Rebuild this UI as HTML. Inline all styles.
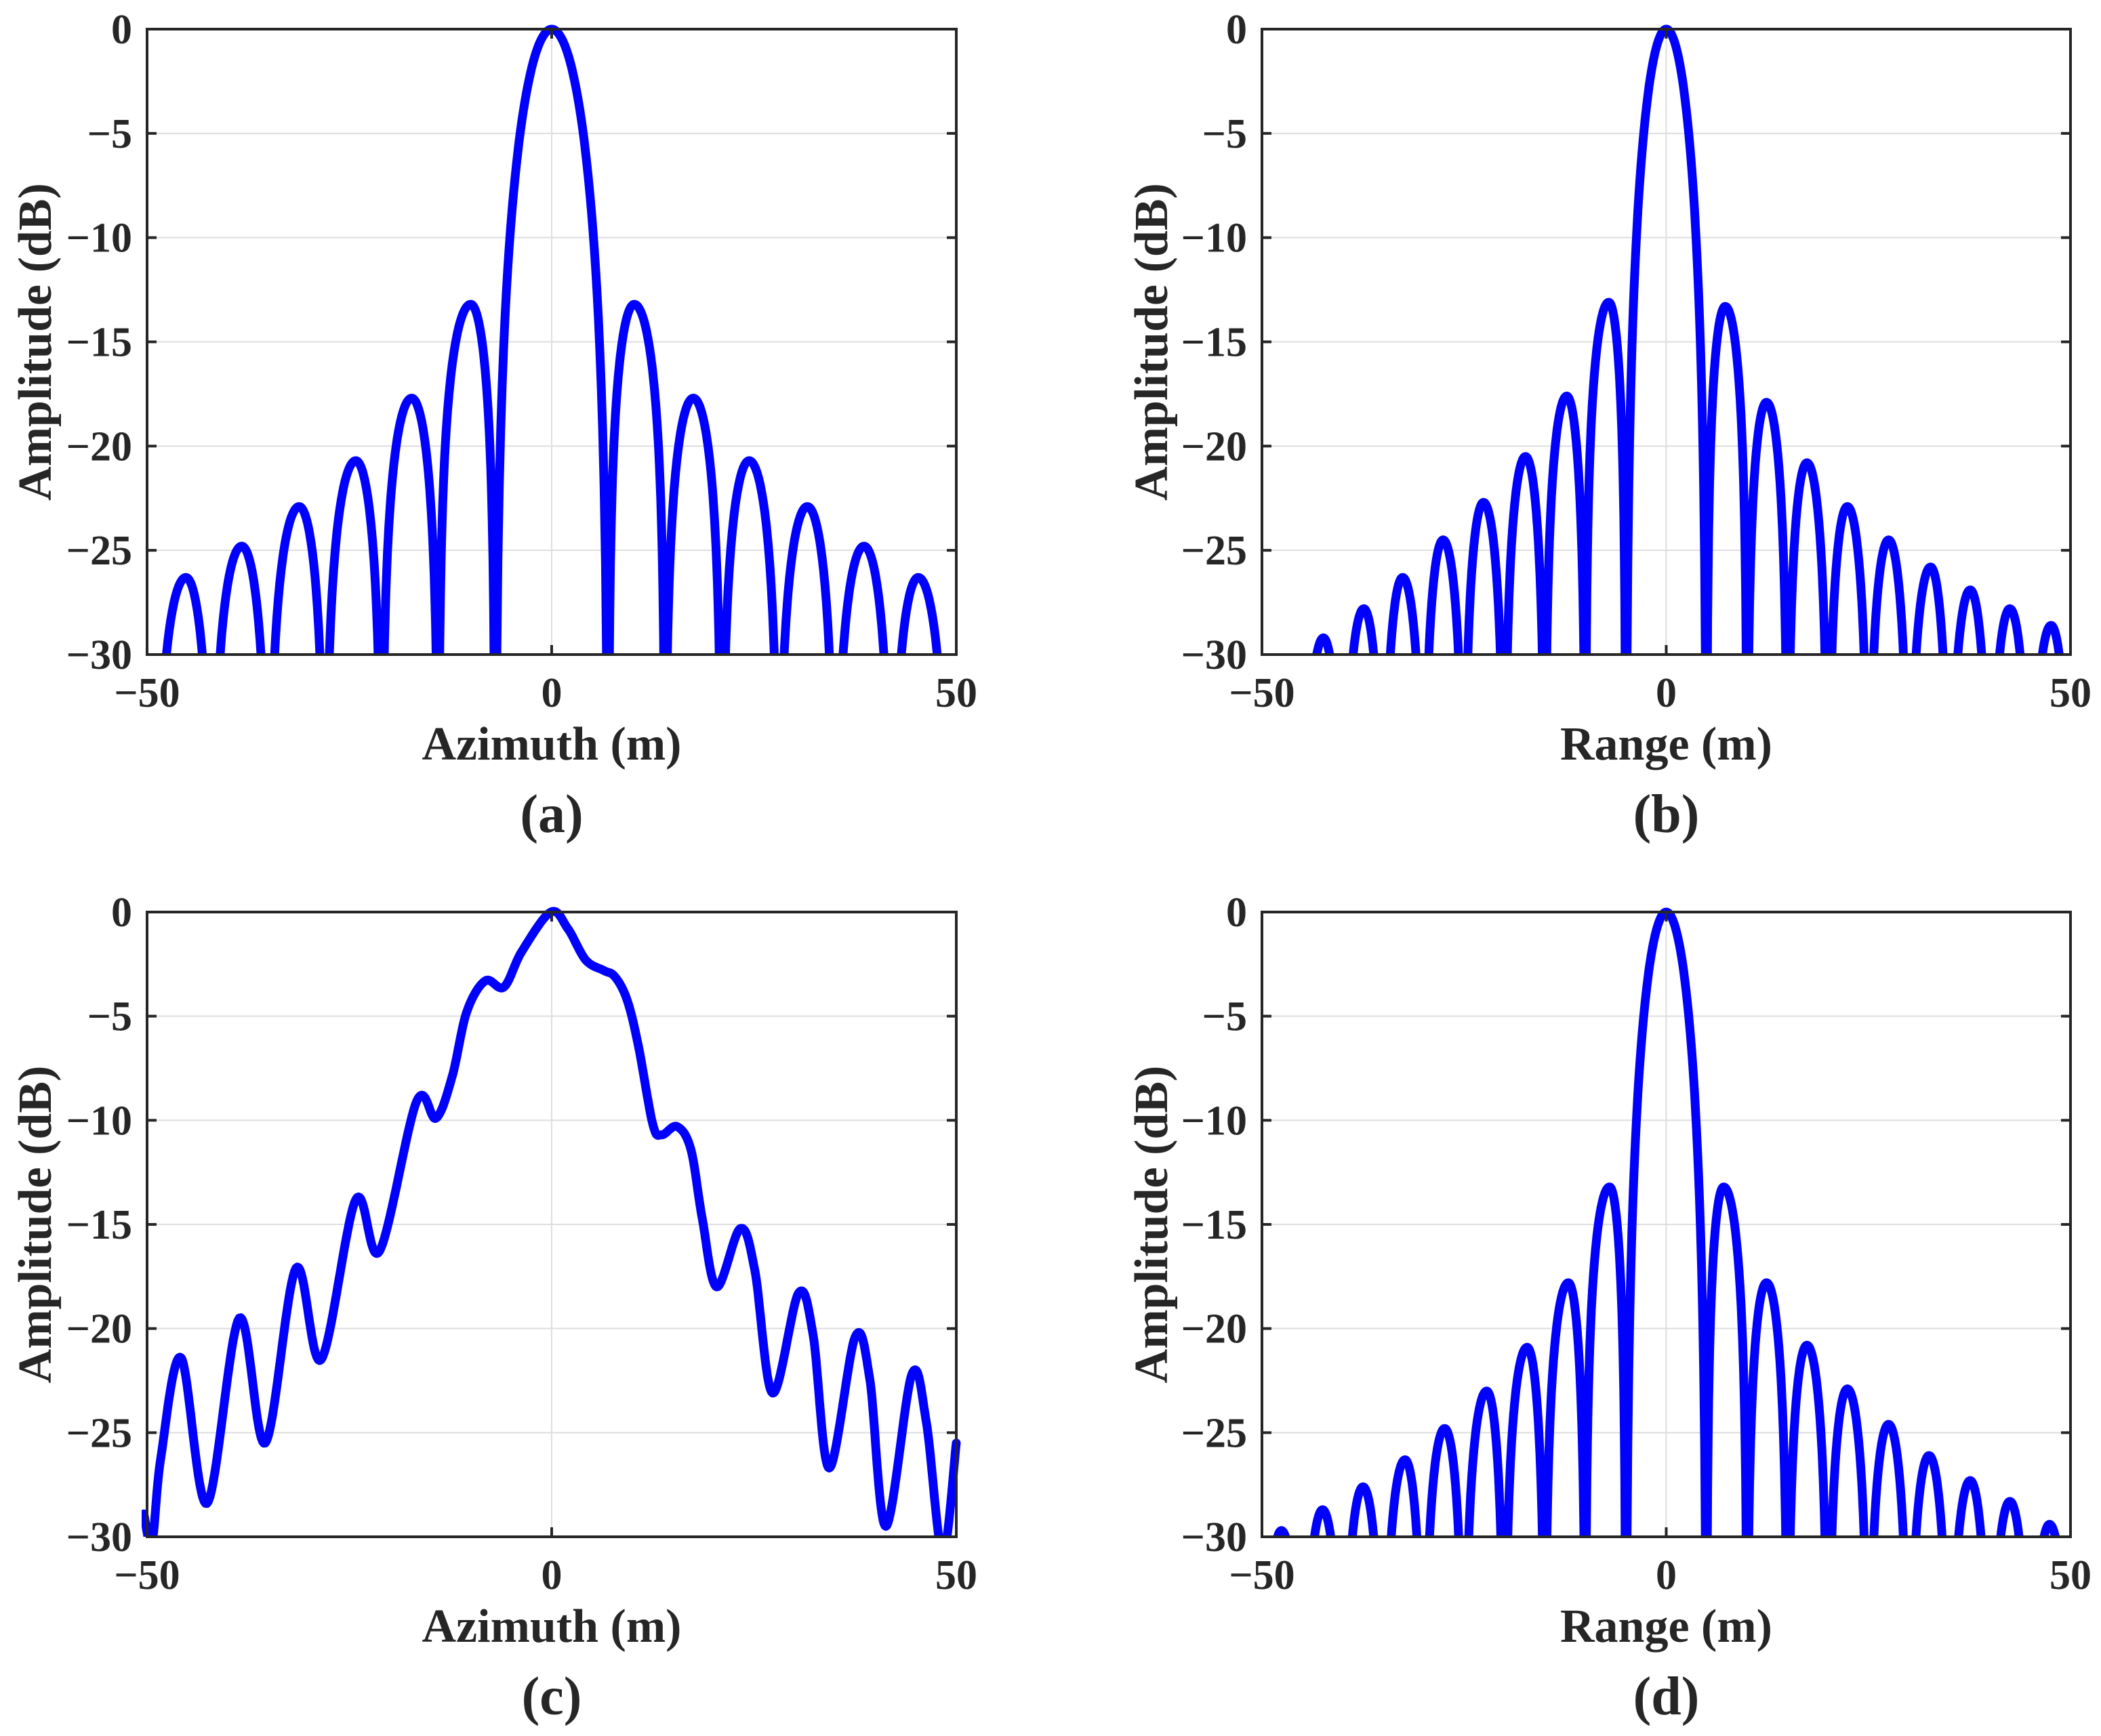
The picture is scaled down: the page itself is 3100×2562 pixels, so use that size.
<!DOCTYPE html>
<html><head><meta charset="utf-8"><style>
html,body{margin:0;padding:0;background:#fff;width:3100px;height:2562px;overflow:hidden}
svg{display:block}
text{font-family:"Liberation Serif",serif;fill:#262626}
</style></head><body>
<svg id="fig" xmlns="http://www.w3.org/2000/svg" width="3100" height="2562" viewBox="0 0 3100 2562" overflow="hidden"></svg>
<script>
// ---- data (panel a: azimuth, focused) ----
const nullsA = [-49,-42,-35,-28,-21,-14,-7,7,14,21,28,35,42,49];
const peakXA = [-45.2,-38.3,-31.2,-24.2,-17.3,-10,0,10.2,17.5,24.4,31.6,38.6,45.3];
const peakYA = [-26.3,-24.8,-22.9,-20.7,-17.7,-13.2,0,-13.2,-17.7,-20.7,-22.9,-24.8,-26.3];
// ---- panel b: range ----
const nullsB = [-45,-40,-35,-30,-25,-20,-15,-10,-5,5,10,15,20,25,30,35,40,45,50];
const peakXB = [-42.4,-37.4,-32.6,-27.6,-22.6,-17.4,-12.3,-7.1,0,7.3,12.4,17.4,22.4,27.5,32.7,37.6,42.5,47.6];
const peakYB = [-29.2,-27.8,-26.3,-24.5,-22.7,-20.5,-17.6,-13.1,0,-13.3,-17.9,-20.8,-22.9,-24.5,-25.8,-26.9,-27.8,-28.6];
// ---- panel c: azimuth, defocused (sampled curve) ----
const curveXC = [-50.4,-49.4,-48.3,-45.8,-42.6,-38.6,-35.4,-31.6,-28.5,-24.2,-21.3,-16.7,-14.3,-12.3,-10.5,-8.2,-5.9,-3.7,-0.1,2.0,4.2,6.4,7.8,9.3,10.7,12.5,13.6,15.5,17.2,18.6,20.4,23.3,25.1,27.3,30.5,32.3,34.3,37.5,39.3,41.3,44.5,46.3,48.3,50];
const curveYC = [-28.9,-30.3,-26.2,-21.4,-28.4,-19.5,-25.5,-17.1,-21.5,-13.8,-16.3,-9.1,-9.9,-7.9,-4.8,-3.3,-3.6,-1.9,0,-0.8,-2.3,-2.8,-3.1,-4.2,-6.4,-10.2,-10.7,-10.3,-11.4,-14.7,-18.0,-15.2,-17.2,-23.1,-18.3,-20.3,-26.7,-20.4,-22.4,-29.5,-22.2,-24.5,-30.8,-25.5];
// ---- panel d: range ----
const nullsD = [-50,-45,-40,-35,-30,-25,-20,-15,-10,-5,5,10,15,20,25,30,35,40,45,50];
const peakXD = [-47.6,-42.5,-37.5,-32.3,-27.4,-22.2,-17.2,-12.1,-7.0,0,7.1,12.4,17.4,22.4,27.5,32.5,37.6,42.5,47.4];
const peakYD = [-29.7,-28.7,-27.6,-26.3,-24.8,-23.0,-20.9,-17.8,-13.2,0,-13.2,-17.8,-20.8,-22.9,-24.6,-26.1,-27.3,-28.3,-29.4];
const xTicks = [-50,0,50];
const yTicks = [0,-5,-10,-15,-20,-25,-30];
const xTickLabels = ['\u221250','0','50'];
const yTickLabels = ['0','\u22125','\u221210','\u221215','\u221220','\u221225','\u221230'];

const NS='http://www.w3.org/2000/svg';
const svg=document.getElementById('fig');
function mk(tag,attrs,parent){const e=document.createElementNS(NS,tag);for(const k in attrs)e.setAttribute(k,attrs[k]);(parent||svg).appendChild(e);return e;}

const panels=[
 {id:'a',x0:217,x1:1411,y0:43,y1:966,xl:'Azimuth (m)',yl:75,type:'lobes',n:nullsA,px:peakXA,py:peakYA},
 {id:'b',x0:1862,x1:3055,y0:43,y1:966,xl:'Range (m)',yl:1722,type:'lobes',n:nullsB,px:peakXB,py:peakYB},
 {id:'c',x0:217,x1:1411,y0:1346,y1:2268,xl:'Azimuth (m)',yl:75,type:'curve',cx:curveXC,cy:curveYC},
 {id:'d',x0:1862,x1:3055,y0:1346,y1:2268,xl:'Range (m)',yl:1722,type:'lobes',n:nullsD,px:peakXD,py:peakYD}
];

function lobePoints(n,px,py){
  const pts=[];
  for(let i=0;i<n.length-1;i++){
    const a=n[i],b=n[i+1],p=px[i],v=py[i];
    const N=80;
    for(let j=0;j<=N;j++){
      const x=a+(b-a)*j/N;let y;
      if(v>-1){const h=(x<p)?(p-a):(b-p);const t=(x-p)/h;
        const s=Math.abs(t)<1e-9?1:Math.abs(Math.sin(Math.PI*t)/(Math.PI*t));
        y=v+20*Math.log10(Math.max(s,1e-4));}
      else{const u=(x<p)?0.5*(x-a)/(p-a):0.5+0.5*(x-p)/(b-p);
        y=v+14*Math.log10(Math.max(Math.sin(Math.PI*u),1e-4));}
      pts.push([x,Math.max(y,-45)]);
    }
  }
  return pts;
}
function splinePoints(xs,ys){
  const pts=[];
  for(let i=0;i<xs.length-1;i++){
    const p0=[xs[Math.max(i-1,0)],ys[Math.max(i-1,0)]],p1=[xs[i],ys[i]],p2=[xs[i+1],ys[i+1]],p3=[xs[Math.min(i+2,xs.length-1)],ys[Math.min(i+2,xs.length-1)]];
    for(let j=0;j<20;j++){const t=j/20,t2=t*t,t3=t2*t;
      const f=(a,b,c,d)=>0.5*((2*b)+(-a+c)*t+(2*a-5*b+4*c-d)*t2+(-a+3*b-3*c+d)*t3);
      pts.push([f(p0[0],p1[0],p2[0],p3[0]),f(p0[1],p1[1],p2[1],p3[1])]);}
  }
  pts.push([xs[xs.length-1],ys[ys.length-1]]);
  return pts;
}

panels.forEach(P=>{
  const g=mk('g',{});
  
  
  const sx=v=>P.x0+(v+50)/100*(P.x1-P.x0);
  const sy=v=>P.y0+(0-v)/30*(P.y1-P.y0);
  yTicks.forEach(t=>{if(t===0||t===-30)return;
    const l=mk('line',{x1:P.x0,x2:P.x1,y1:sy(t),y2:sy(t),stroke:'#dedede','stroke-width':2},g);
    
    });
  const gx=mk('line',{x1:sx(0),x2:sx(0),y1:P.y0,y2:P.y1,stroke:'#dedede','stroke-width':2},g);
  
  
  const cp=mk('clipPath',{id:'clip'+P.id},g);
  mk('rect',{x:P.x0-8,y:P.y0-8,width:P.x1-P.x0+16,height:P.y1-P.y0+8},cp);
  const pts=P.type==='lobes'?lobePoints(P.n,P.px,P.py):splinePoints(P.cx,P.cy);
  const d=pts.map((p,i)=>(i?'L':'M')+sx(p[0]).toFixed(1)+' '+sy(p[1]).toFixed(1)).join('');
  const path=mk('path',{d:d,fill:'none',stroke:'#0000ff','stroke-width':13,'stroke-linejoin':'round','stroke-linecap':'round','clip-path':'url(#clip'+P.id+')'},g);
  
  
  const box=mk('rect',{x:P.x0,y:P.y0,width:P.x1-P.x0,height:P.y1-P.y0,fill:'none',stroke:'#262626','stroke-width':4},g);
  
  
  yTicks.forEach((t,i)=>{
    mk('line',{x1:P.x0,x2:P.x0+14,y1:sy(t),y2:sy(t),stroke:'#262626','stroke-width':4},g);
    mk('line',{x1:P.x1,x2:P.x1-14,y1:sy(t),y2:sy(t),stroke:'#262626','stroke-width':4},g);
    const tx=mk('text',{x:P.x0-22,y:sy(t)+21,'text-anchor':'end','font-size':62,'font-weight':'bold'},g);
    tx.textContent=yTickLabels[i];
    
    
  });
  xTicks.forEach((t,i)=>{
    mk('line',{x1:sx(t),x2:sx(t),y1:P.y1,y2:P.y1-14,stroke:'#262626','stroke-width':4},g);
    mk('line',{x1:sx(t),x2:sx(t),y1:P.y0,y2:P.y0+14,stroke:'#262626','stroke-width':4},g);
    const tx=mk('text',{x:sx(t),y:P.y1+77,'text-anchor':'middle','font-size':62,'font-weight':'bold'},g);
    tx.textContent=xTickLabels[i];
    
    
  });
  const xl=mk('text',{x:(P.x0+P.x1)/2,y:P.y1+155,'text-anchor':'middle','font-size':70,'font-weight':'bold'},g);
  xl.textContent=P.xl;
  
  
  const ym=(P.y0+P.y1)/2;
  const yl=mk('text',{x:P.yl,y:ym,'text-anchor':'middle','font-size':70,'font-weight':'bold',transform:'rotate(-90 '+P.yl+' '+ym+')'},g);
  yl.textContent='Amplitude (dB)';
  
  
  const cap=mk('text',{x:(P.x0+P.x1)/2,y:P.y1+262,'text-anchor':'middle','font-size':80,'font-weight':'bold'},g);
  cap.textContent='('+P.id+')';
  
  
});
</script>
</body></html>
